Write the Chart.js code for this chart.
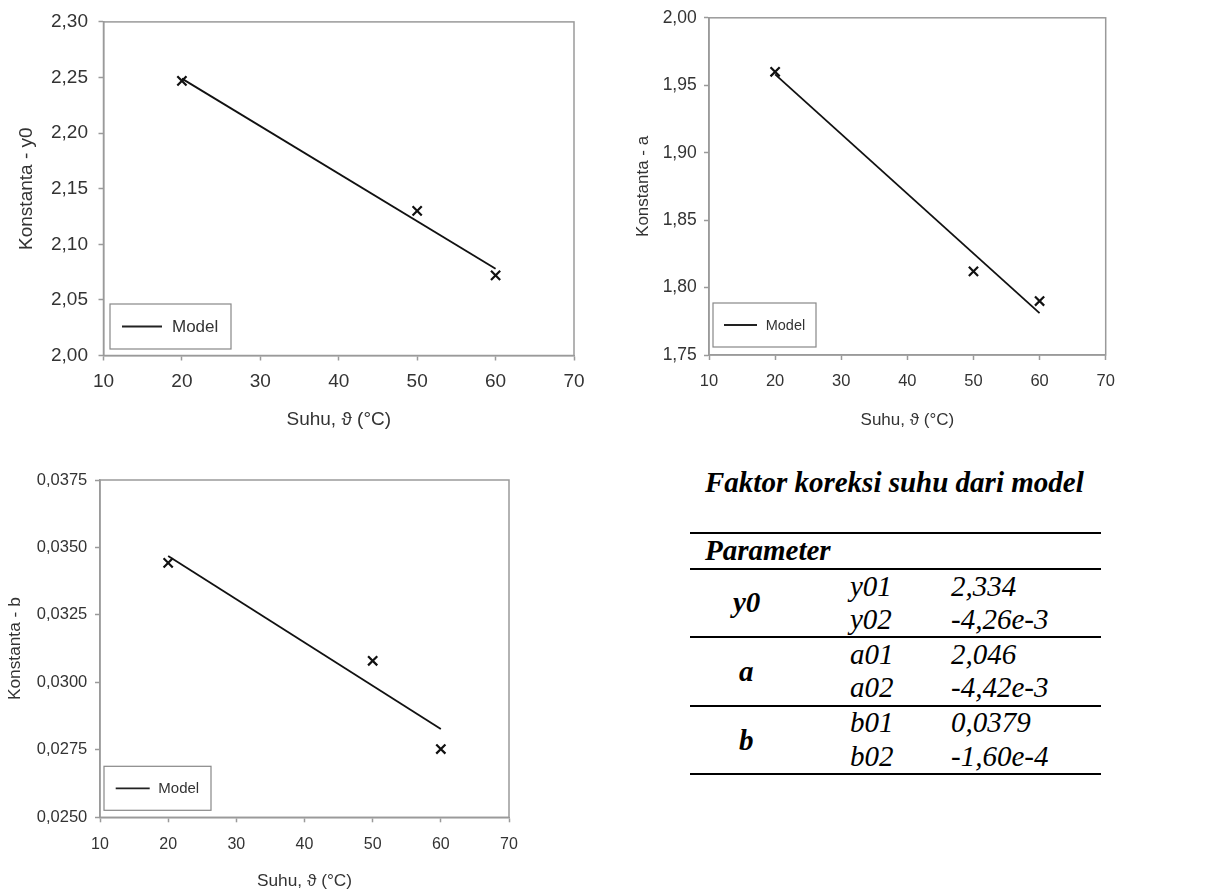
<!DOCTYPE html>
<html><head><meta charset="utf-8">
<script src="https://cdn.jsdelivr.net/npm/chart.js@4.4.1/dist/chart.umd.min.js"></script>
<style>
html,body{margin:0;padding:0;background:#fff;}
body{width:1221px;height:893px;overflow:hidden;position:relative;}
.box{position:absolute;}
.box canvas{display:block;}
.t{position:absolute;font-family:"Liberation Serif","Times New Roman",serif;font-style:italic;font-size:29px;line-height:29px;color:#000;white-space:nowrap;}
.b{font-weight:bold;}
.rule{position:absolute;left:690px;width:411px;height:2px;background:#000;}
</style></head><body>
<div class="box" style="left:0;top:0;width:600px;height:440px"><canvas id="c1"></canvas></div>
<div class="box" style="left:610px;top:0;width:520px;height:440px"><canvas id="c2"></canvas></div>
<div class="box" style="left:0;top:440px;width:540px;height:453px"><canvas id="c3"></canvas></div>

<div class="t b" style="left:705px;top:468.4px">Faktor koreksi suhu dari model</div>
<div class="rule" style="top:531.5px"></div>
<div class="t b" style="left:705px;top:536.4px">Parameter</div>
<div class="rule" style="top:567.5px"></div>
<div class="t b" style="left:733px;top:588.4px">y0</div>
<div class="t" style="left:850px;top:571.7px">y01</div>
<div class="t" style="left:951px;top:571.7px">2,334</div>
<div class="t" style="left:850px;top:605px">y02</div>
<div class="t" style="left:951px;top:605px">-4,26e-3</div>
<div class="rule" style="top:635.5px"></div>
<div class="t b" style="left:739px;top:657.4px">a</div>
<div class="t" style="left:850px;top:640px">a01</div>
<div class="t" style="left:951px;top:640px">2,046</div>
<div class="t" style="left:850px;top:673.4px">a02</div>
<div class="t" style="left:951px;top:673.4px">-4,42e-3</div>
<div class="rule" style="top:705px"></div>
<div class="t b" style="left:739px;top:725.7px">b</div>
<div class="t" style="left:850px;top:708px">b01</div>
<div class="t" style="left:951px;top:708px">0,0379</div>
<div class="t" style="left:850px;top:741.7px">b02</div>
<div class="t" style="left:951px;top:741.7px">-1,60e-4</div>
<div class="rule" style="top:773px"></div>

<script>
// ---- data ----
const temps = [20, 50, 60];
const modelTemps = [20, 60];
const y0Measured = [2.247, 2.130, 2.072];
const y0Model = [2.249, 2.078];
const aMeasured = [1.960, 1.812, 1.790];
const aModel = [1.958, 1.781];
const bMeasured = [0.03443, 0.03080, 0.02753];
const bModel = [0.03468, 0.02827];
const xTickValues = [10, 20, 30, 40, 50, 60, 70];
const xTickLabels = ['10', '20', '30', '40', '50', '60', '70'];
const y0TickValues = [2.00, 2.05, 2.10, 2.15, 2.20, 2.25, 2.30];
const y0TickLabels = ['2,00', '2,05', '2,10', '2,15', '2,20', '2,25', '2,30'];
const aTickValues = [1.75, 1.80, 1.85, 1.90, 1.95, 2.00];
const aTickLabels = ['1,75', '1,80', '1,85', '1,90', '1,95', '2,00'];
const bTickValues = [0.0250, 0.0275, 0.0300, 0.0325, 0.0350, 0.0375];
const bTickLabels = ['0,0250', '0,0275', '0,0300', '0,0325', '0,0350', '0,0375'];
const xTitle = 'Suhu, \u03D1 (\u00B0C)';
const legendLabel = 'Model';

const FONT = '"Liberation Sans", Arial, sans-serif';
const GRAY = '#9a9a9a';
const TXT = '#333';

const framePlugin = {
  id: 'frame',
  beforeDatasetsDraw(chart) {
    const {ctx, chartArea: a} = chart;
    ctx.save();
    ctx.strokeStyle = GRAY;
    ctx.lineWidth = 1.5;
    ctx.strokeRect(a.left, a.top, a.right - a.left, a.bottom - a.top);
    ctx.restore();
  }
};
const boxLegend = {
  id: 'boxLegend',
  afterDatasetsDraw(chart, args, o) {
    const {ctx, chartArea: a} = chart;
    const x = a.left + o.dx, y = a.bottom - o.dy - o.h;
    ctx.save();
    ctx.fillStyle = '#fff';
    ctx.fillRect(x, y, o.w, o.h);
    ctx.strokeStyle = '#888';
    ctx.lineWidth = 1.2;
    ctx.strokeRect(x, y, o.w, o.h);
    ctx.strokeStyle = '#222';
    ctx.lineWidth = 1.8;
    ctx.beginPath();
    ctx.moveTo(x + o.l0, y + o.h / 2);
    ctx.lineTo(x + o.l1, y + o.h / 2);
    ctx.stroke();
    ctx.fillStyle = TXT;
    ctx.font = o.fs + 'px ' + FONT;
    ctx.textBaseline = 'middle';
    ctx.fillText(chart.data.datasets[1].label, x + o.tx, y + o.h / 2 + 1);
    ctx.restore();
  }
};

function make(id, c) {
  const pts = temps.map((t, i) => ({x: t, y: c.meas[i]}));
  const line = modelTemps.map((t, i) => ({x: t, y: c.model[i]}));
  return new Chart(document.getElementById(id), {
    type: 'scatter',
    data: {
      datasets: [
        {label: 'Data', data: pts, pointStyle: 'crossRot', pointRadius: 6.5, pointHoverRadius: 6.5,
         borderColor: '#111', backgroundColor: '#111', pointBorderWidth: 2.2, showLine: false},
        {label: legendLabel, data: line, showLine: true, pointRadius: 0, borderColor: '#111',
         borderWidth: 1.8, backgroundColor: '#111'}
      ]
    },
    options: {
      responsive: true, maintainAspectRatio: false, animation: false,
      layout: {padding: {left: 0, top: c.top, right: c.right, bottom: 0}},
      plugins: {legend: {display: false}, tooltip: {enabled: false},
        boxLegend: c.leg},
      scales: {
        x: {
          type: 'linear', min: 10, max: 70,
          afterBuildTicks: s => { s.ticks = xTickValues.map(v => ({value: v})); },
          afterFit: s => { s.height = c.xh; },
          border: {display: true, color: GRAY, width: 1.5},
          grid: {display: true, drawOnChartArea: false, drawTicks: true, tickLength: 5, color: GRAY, tickWidth: 1.5},
          ticks: {font: {family: FONT, size: c.fx}, color: TXT, padding: c.xpad, maxRotation: 0, autoSkip: false,
                  callback: (v, i) => xTickLabels[i]},
          title: {display: true, text: xTitle, font: {family: FONT, size: c.ft}, color: TXT, padding: {top: 0, bottom: c.xtpad}}
        },
        y: {
          type: 'linear', min: c.yv[0], max: c.yv[c.yv.length - 1],
          afterBuildTicks: s => { s.ticks = c.yv.map(v => ({value: v})); },
          afterFit: s => { s.width = c.yw; },
          border: {display: true, color: GRAY, width: 1.5},
          grid: {display: true, drawOnChartArea: false, drawTicks: true, tickLength: 5, color: GRAY, tickWidth: 1.5},
          ticks: {font: {family: FONT, size: c.fy}, color: TXT, padding: c.ypad, autoSkip: false,
                  callback: (v, i) => c.yl[i]},
          title: {display: true, text: c.ytitle, font: {family: FONT, size: c.ft}, color: TXT, padding: {top: c.ytpad, bottom: 0}}
        }
      }
    },
    plugins: [framePlugin, boxLegend]
  });
}

make('c1', {meas: y0Measured, model: y0Model, yv: y0TickValues, yl: y0TickLabels, ytitle: 'Konstanta - y0',
  top: 19.5, right: 26, xh: 84.5, yw: 103.5, fx: 19, fy: 19, ft: 19, xpad: 10, ypad: 10.5, xtpad: 8.6, ytpad: 15.6,
  leg: {dx: 6.5, dy: 6.5, w: 121, h: 45, l0: 12, l1: 52, tx: 62, fs: 17}});
make('c2', {meas: aMeasured, model: aModel, yv: aTickValues, yl: aTickLabels, ytitle: 'Konstanta - a',
  top: 17.3, right: 24.3, xh: 85, yw: 99, fx: 16.5, fy: 17.5, ft: 17, xpad: 11.5, ypad: 7.3, xtpad: 9.1, ytpad: 23.1,
  leg: {dx: 4, dy: 8, w: 103, h: 44, l0: 11, l1: 44, tx: 52.7, fs: 14.5}});
make('c3', {meas: bMeasured, model: bModel, yv: bTickValues, yl: bTickLabels, ytitle: 'Konstanta - b',
  top: 40, right: 31, xh: 75.7, yw: 100, fx: 16, fy: 16.5, ft: 17.3, xpad: 12.5, ypad: 7.7, xtpad: 0.9, ytpad: 4.6,
  leg: {dx: 4, dy: 7, w: 107, h: 44, l0: 11.7, l1: 45.7, tx: 54.3, fs: 15}});
</script>
</body></html>
